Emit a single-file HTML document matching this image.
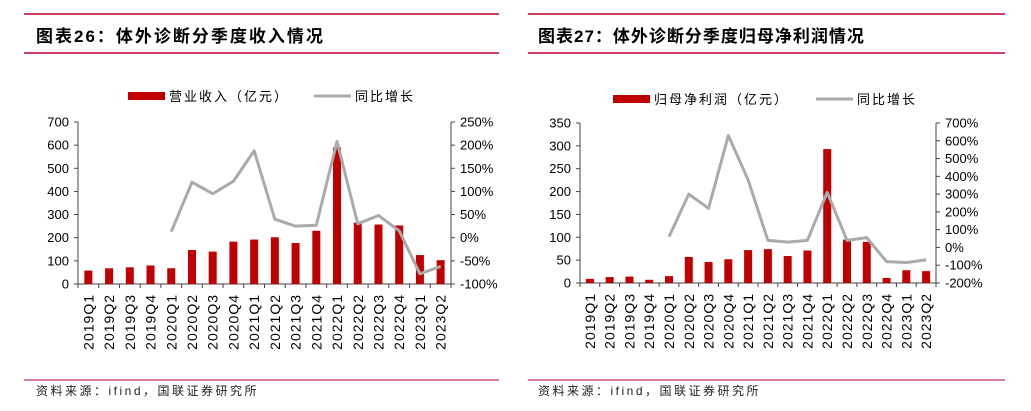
<!DOCTYPE html>
<html><head><meta charset="utf-8"><style>
body{margin:0;background:#fff;width:1031px;height:406px;overflow:hidden;font-family:"Liberation Sans","Noto Sans CJK SC",sans-serif}
svg text{font-family:"Liberation Sans","Noto Sans CJK SC",sans-serif}
</style></head><body>
<svg id="s" width="1031" height="406">
<g>
<line x1="24" y1="14" x2="499" y2="14" stroke="#c00030" stroke-width="1.5"/>
<line x1="24" y1="53" x2="499" y2="53" stroke="#c00030" stroke-width="1.5"/>
<text x="36" y="42" font-size="17" font-weight="bold" fill="#000" letter-spacing="2">图表26：体外诊断分季度收入情况</text>
<line x1="24" y1="380" x2="499" y2="380" stroke="#c00030" stroke-width="1"/>
<text x="36" y="395" font-size="12" fill="#222" letter-spacing="2.5">资料来源：ifind，国联证券研究所</text>
</g>
<g>
<line x1="528" y1="14" x2="1005" y2="14" stroke="#c00030" stroke-width="1.5"/>
<line x1="528" y1="53" x2="1005" y2="53" stroke="#c00030" stroke-width="1.5"/>
<text x="538" y="42" font-size="17" font-weight="bold" fill="#000" letter-spacing="1">图表27：体外诊断分季度归母净利润情况</text>
<line x1="528" y1="380" x2="1005" y2="380" stroke="#c00030" stroke-width="1"/>
<text x="538" y="395" font-size="12" fill="#222" letter-spacing="2.5">资料来源：ifind，国联证券研究所</text>
</g>
</svg>
<script>
const categories=["2019Q1","2019Q2","2019Q3","2019Q4","2020Q1","2020Q2","2020Q3","2020Q4","2021Q1","2021Q2","2021Q3","2021Q4","2022Q1","2022Q2","2022Q3","2022Q4","2023Q1","2023Q2"];
const revenue=[58,68,72,80,68,147,140,183,192,202,177,230,590,265,257,253,125,103];
const revenueYoY=[null,null,null,null,13,120,95,122,188,40,25,27,208,30,48,15,-78,-62];
const profit=[9,13,14,7,15,57,46,52,72,74,59,71,293,95,90,11,28,26];
const profitYoY=[null,null,null,null,60,300,220,630,380,40,30,40,310,40,55,-80,-85,-70];
const leftTicks1=[0,100,200,300,400,500,600,700];
const rightTicks1=[-100,-50,0,50,100,150,200,250];
const leftTicks2=[0,50,100,150,200,250,300,350];
const rightTicks2=[-200,-100,0,100,200,300,400,500,600,700];
const svg=document.getElementById('s');
const NS='http://www.w3.org/2000/svg';
function mk(tag,attrs,parent){const e=document.createElementNS(NS,tag);for(const k in attrs)e.setAttribute(k,attrs[k]);(parent||svg).appendChild(e);return e;}
function chart(o){
  const g=mk('g',{});
  
  
  const n=categories.length,step=(o.x1-o.x0)/n;
  const yL=v=>o.yb-(v-o.lmin)/(o.lmax-o.lmin)*(o.yb-o.yt);
  const yR=v=>o.yb-(v-o.rmin)/(o.rmax-o.rmin)*(o.yb-o.yt);
  const xc=i=>o.x0+step*(i+0.5);
  mk('line',{x1:o.x0,y1:o.yt,x2:o.x0,y2:o.yb,stroke:'#444'},g);
  mk('line',{x1:o.x1,y1:o.yt,x2:o.x1,y2:o.yb,stroke:'#444'},g);
  mk('line',{x1:o.x0-4,y1:o.yb,x2:o.x1+4,y2:o.yb,stroke:'#444'},g);
  o.lt.forEach(v=>{mk('line',{x1:o.x0-4,y1:yL(v),x2:o.x0,y2:yL(v),stroke:'#444'},g);
    const t=mk('text',{x:o.x0-9,y:yL(v)+4.5,'font-size':13,'text-anchor':'end',fill:'#000'},g);t.textContent=v;
    });
  o.rt.forEach(v=>{mk('line',{x1:o.x1,y1:yR(v),x2:o.x1+4,y2:yR(v),stroke:'#444'},g);
    const t=mk('text',{x:o.x1+9,y:yR(v)+4.5,'font-size':13,fill:'#000'},g);t.textContent=v+'%';
    });
  for(let i=0;i<=n;i++)mk('line',{x1:o.x0+step*i,y1:o.yb,x2:o.x0+step*i,y2:o.yb+4,stroke:'#444'},g);
  o.bars.forEach((v,i)=>{const r=mk('rect',{x:xc(i)-4,y:yL(v),width:8,height:o.yb-yL(v),fill:'#c00000'},g);
    });
  let d='';o.line.forEach((v,i)=>{if(v===null)return;d+=(d?'L':'M')+xc(i)+' '+yR(v);});
  const p=mk('path',{d:d,fill:'none',stroke:'#aaa','stroke-width':3,'stroke-linejoin':'round'},g);
  
  categories.forEach((c,i)=>{const t=mk('text',{transform:`translate(${xc(i)+5},${o.yb+10}) rotate(-90)`,'font-size':14,'letter-spacing':1,'text-anchor':'end',fill:'#000'},g);t.textContent=c;
    });
  const lg=mk('g',{},g);
  mk('rect',{x:o.lgx,y:o.lgy-4,width:37,height:8,fill:'#c00000'},lg);
  const t1=mk('text',{x:o.lgx+41,y:o.lgy+5,'font-size':13,'letter-spacing':2,fill:'#000'},lg);t1.textContent=o.lab;
  mk('line',{x1:o.lgx2,y1:o.lgy,x2:o.lgx2+37,y2:o.lgy,stroke:'#aaa','stroke-width':3},lg);
  const t2=mk('text',{x:o.lgx2+41,y:o.lgy+5,'font-size':13,'letter-spacing':2,fill:'#000'},lg);t2.textContent='同比增长';
}
chart({name:'revenue-chart',x0:78,x1:451,yt:122,yb:284,lmin:0,lmax:700,rmin:-100,rmax:250,lt:leftTicks1,rt:rightTicks1,bars:revenue,line:revenueYoY,lgx:128,lgy:96,lgx2:314,lab:'营业收入（亿元）'});
chart({name:'profit-chart',x0:580,x1:936,yt:123,yb:283,lmin:0,lmax:350,rmin:-200,rmax:700,lt:leftTicks2,rt:rightTicks2,bars:profit,line:profitYoY,lgx:613,lgy:99,lgx2:816,lab:'归母净利润（亿元）'});
</script>
</body></html>
